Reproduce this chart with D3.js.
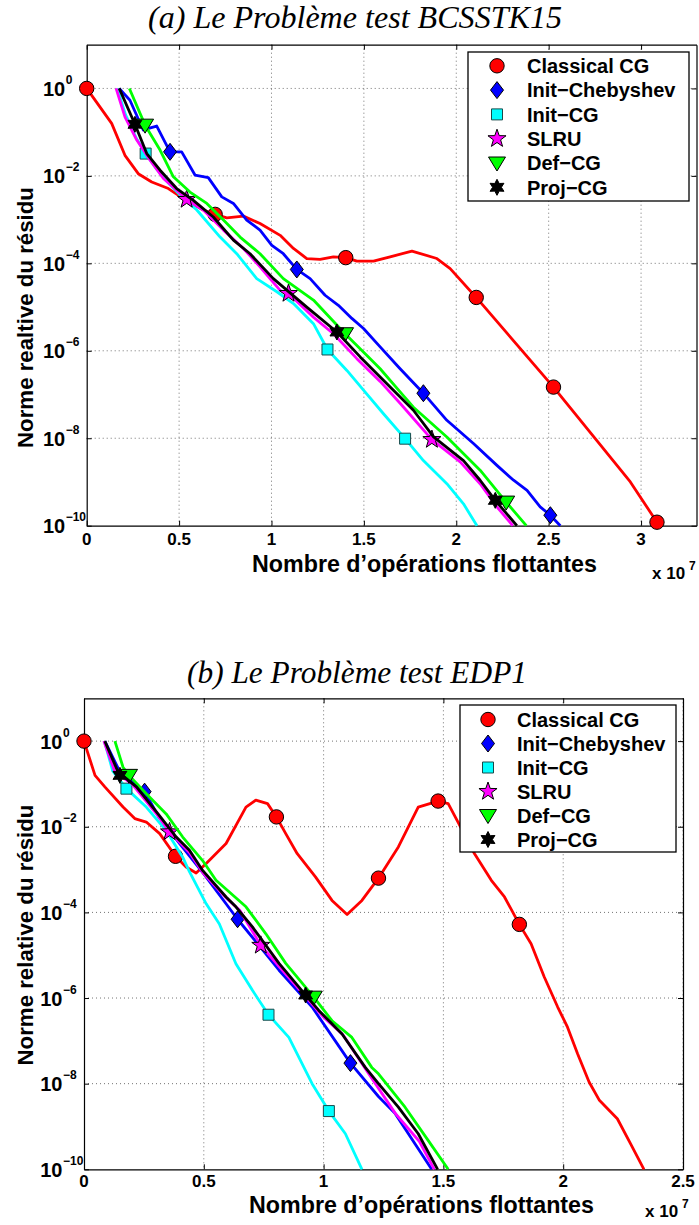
<!DOCTYPE html>
<html><head><meta charset="utf-8">
<script src="https://cdn.jsdelivr.net/npm/d3@7"></script>
<style>body{margin:0;background:#fff;} svg{display:block;}</style>
</head><body><svg id="c" width="699" height="1225"></svg>
<script>
// ---------- DATA (x in units of 1e7 flops, y as log10 of relative residual) ----------
const seriesNames = ["Classical CG","Init\u2212Chebyshev","Init\u2212CG","SLRU","Def\u2212CG","Proj\u2212CG"];
const seriesColors = ["#ff0000","#0000ff","#00ffff","#ff00ff","#00ff00","#000000"];
const markerTypes = ["circle","diamond","square","star","triangle","hexagram"];
const yTickExponents = [0,-2,-4,-6,-8,-10];
const xTicksA = [0,0.5,1,1.5,2,2.5,3];
const xTicksB = [0,0.5,1,1.5,2,2.5];
const titleA = "(a) Le Probl\u00e8me test BCSSTK15";
const titleB = "(b) Le Probl\u00e8me test EDP1";
const yLabelA = "Norme realtive du r\u00e9sidu";
const yLabelB = "Norme relative du r\u00e9sidu";
const xLabel = "Nombre d\u2019op\u00e9rations flottantes";

// Panel (a) BCSSTK15
const a_classicalCG = [[0,0],[0.135,-0.80],[0.207,-1.53],[0.279,-1.95],[0.352,-2.14],[0.442,-2.29],[0.523,-2.52],[0.631,-2.78],[0.695,-2.88],[0.758,-2.96],[0.848,-2.92],[0.938,-3.09],[1.047,-3.36],[1.119,-3.66],[1.191,-3.89],[1.263,-3.91],[1.335,-3.85],[1.402,-3.87],[1.462,-3.95],[1.552,-3.95],[1.642,-3.85],[1.760,-3.72],[1.895,-3.89],[1.967,-4.12],[2.108,-4.78],[2.526,-6.83],[2.942,-9.00],[3.086,-9.92]];
const a_initCheb = [[0.176,0],[0.234,-0.27],[0.306,-0.95],[0.379,-0.86],[0.451,-1.45],[0.514,-1.45],[0.586,-1.98],[0.658,-2.04],[0.731,-2.48],[0.794,-2.63],[0.866,-3.01],[0.938,-3.24],[1.002,-3.59],[1.064,-3.78],[1.137,-4.14],[1.209,-4.35],[1.290,-4.73],[1.362,-4.96],[1.435,-5.26],[1.498,-5.49],[1.588,-5.91],[1.696,-6.41],[1.822,-6.97],[1.949,-7.59],[2.093,-8.12],[2.220,-8.62],[2.310,-8.96],[2.383,-9.19],[2.454,-9.57],[2.509,-9.76],[2.563,-10.0]];
const a_initCG = [[0.165,0],[0.21,-0.6],[0.27,-1.15],[0.319,-1.49],[0.38,-1.85],[0.45,-2.2],[0.52,-2.5],[0.596,-2.78],[0.722,-3.40],[0.812,-3.78],[0.920,-4.35],[1.029,-4.65],[1.119,-4.92],[1.227,-5.38],[1.303,-5.97],[1.408,-6.45],[1.498,-6.90],[1.606,-7.44],[1.723,-8.01],[1.822,-8.51],[1.949,-9.04],[2.039,-9.50],[2.112,-10.0]];
const a_slru = [[0.159,0],[0.207,-0.65],[0.271,-1.18],[0.343,-1.64],[0.415,-2.06],[0.487,-2.33],[0.541,-2.54],[0.631,-2.78],[0.740,-3.24],[0.848,-3.66],[0.938,-4.08],[0.992,-4.35],[1.047,-4.62],[1.092,-4.69],[1.227,-5.23],[1.335,-5.61],[1.462,-6.18],[1.588,-6.70],[1.696,-7.20],[1.868,-8.03],[2.021,-8.54],[2.129,-9.04],[2.220,-9.57],[2.306,-10.0]];
const a_defCG = [[0.231,0],[0.316,-0.84],[0.397,-1.41],[0.469,-2.02],[0.559,-2.37],[0.650,-2.63],[0.740,-3.01],[0.830,-3.40],[0.938,-3.78],[1.064,-4.35],[1.227,-4.84],[1.398,-5.61],[1.534,-6.18],[1.588,-6.41],[1.696,-6.94],[1.768,-7.29],[1.949,-7.97],[2.129,-8.73],[2.270,-9.46],[2.379,-10.0]];
const a_projCG = [[0.176,0],[0.261,-0.82],[0.325,-1.49],[0.397,-1.87],[0.487,-2.29],[0.577,-2.56],[0.685,-2.94],[0.794,-3.47],[0.884,-3.78],[1.010,-4.35],[1.191,-5.00],[1.354,-5.57],[1.480,-6.14],[1.588,-6.60],[1.768,-7.36],[1.877,-7.97],[2.039,-8.51],[2.129,-8.96],[2.211,-9.42],[2.328,-10.0]];
const a_classicalCG_marks = [[0,0],[0.695,-2.88],[1.402,-3.87],[2.108,-4.78],[2.526,-6.83],[3.086,-9.92]];
const a_initCheb_marks = [[0.451,-1.45],[1.137,-4.14],[1.822,-6.97],[2.509,-9.76]];
const a_initCG_marks = [[0.319,-1.49],[1.303,-5.97],[1.723,-8.01]];
const a_slru_marks = [[0.541,-2.54],[1.092,-4.69],[1.868,-8.03]];
const a_defCG_marks = [[0.316,-0.84],[1.398,-5.61],[2.270,-9.46]];
const a_projCG_marks = [[0.261,-0.82],[1.354,-5.57],[2.211,-9.42]];

// Panel (b) EDP1
const b_classicalCG = [[0,0],[0.046,-0.80],[0.087,-1.07],[0.163,-1.54],[0.212,-1.81],[0.260,-1.89],[0.316,-2.16],[0.382,-2.69],[0.426,-2.94],[0.468,-3.08],[0.510,-2.86],[0.593,-2.39],[0.676,-1.54],[0.717,-1.38],[0.766,-1.46],[0.803,-1.77],[0.842,-2.16],[0.890,-2.63],[0.966,-3.17],[1.035,-3.72],[1.098,-4.05],[1.160,-3.72],[1.229,-3.2],[1.312,-2.47],[1.395,-1.54],[1.478,-1.40],[1.520,-1.46],[1.561,-1.89],[1.630,-2.63],[1.700,-3.25],[1.755,-3.64],[1.817,-4.28],[1.866,-4.73],[1.921,-5.51],[1.977,-6.21],[2.018,-6.68],[2.060,-7.30],[2.108,-7.96],[2.150,-8.38],[2.226,-8.82],[2.282,-9.41],[2.337,-10.0]];
const b_initCheb = [[0.087,0],[0.15,-0.72],[0.253,-1.18],[0.31,-1.75],[0.4,-2.4],[0.5,-3.1],[0.641,-4.16],[0.72,-4.7],[0.814,-5.35],[0.952,-6.21],[1.112,-7.52],[1.229,-8.3],[1.299,-8.7],[1.382,-9.41],[1.451,-10.0]];
const b_initCG = [[0.085,0],[0.12,-0.7],[0.177,-1.11],[0.260,-1.54],[0.343,-2.09],[0.412,-2.71],[0.440,-3.05],[0.510,-3.80],[0.565,-4.27],[0.634,-5.20],[0.703,-5.82],[0.770,-6.39],[0.855,-6.92],[0.952,-8.00],[1.022,-8.64],[1.091,-9.17],[1.160,-10.0]];
const b_slru = [[0.083,0],[0.129,-0.72],[0.2,-1.0],[0.3,-1.68],[0.357,-2.12],[0.44,-2.6],[0.5,-3.1],[0.6,-3.7],[0.65,-3.95],[0.738,-4.77],[0.82,-5.3],[0.93,-6.0],[1.0,-6.45],[1.08,-6.85],[1.18,-7.7],[1.3,-8.7],[1.4,-9.35],[1.462,-10.0]];
const b_defCG = [[0.129,0],[0.163,-0.61],[0.188,-0.80],[0.260,-1.23],[0.343,-1.70],[0.412,-2.24],[0.495,-2.79],[0.551,-3.25],[0.676,-3.87],[0.759,-4.50],[0.842,-5.19],[0.959,-5.98],[1.035,-6.53],[1.118,-6.92],[1.201,-7.62],[1.229,-7.77],[1.340,-8.55],[1.437,-9.33],[1.520,-10.0]];
const b_projCG = [[0.087,0],[0.142,-0.72],[0.219,-1.07],[0.309,-1.70],[0.385,-2.24],[0.440,-2.55],[0.495,-3.02],[0.593,-3.64],[0.634,-3.87],[0.703,-4.34],[0.814,-5.19],[0.925,-5.93],[0.980,-6.29],[1.077,-6.84],[1.174,-7.62],[1.229,-8.00],[1.312,-8.55],[1.395,-9.17],[1.476,-10.0]];
const b_classicalCG_marks = [[0,0],[0.382,-2.69],[0.803,-1.77],[1.229,-3.2],[1.478,-1.40],[1.817,-4.28]];
const b_initCheb_marks = [[0.253,-1.18],[0.641,-4.16],[1.112,-7.52]];
const b_initCG_marks = [[0.177,-1.11],[0.770,-6.39],[1.022,-8.64]];
const b_slru_marks = [[0.357,-2.12],[0.738,-4.77]];
const b_defCG_marks = [[0.188,-0.80],[0.959,-5.98]];
const b_projCG_marks = [[0.15,-0.80],[0.925,-5.93]];

// ---------- LAYOUT ----------
const FONT = "'Liberation Sans', Arial, Helvetica, sans-serif";
const svg = d3.select("#c");

const panels = [
  {left:86.7,right:696.5,top:44.7,bottom:525.7,xMax:3.3,xTicks:xTicksA,
   title:titleA,titleX:355,titleY:28,titleW:414,
   yLabel:yLabelA,yLabelY:317.5,xLabelX:424.5,xLabelY:571.5,expX:652,expY:579,tickDy:19,
   leg:{x:468,y:52,w:221,h:149,row0:65.8,dy:24.3,mx:29,tx:59},
   lines:[a_classicalCG,a_initCheb,a_initCG,a_slru,a_defCG,a_projCG],
   marks:[a_classicalCG_marks,a_initCheb_marks,a_initCG_marks,a_slru_marks,a_defCG_marks,a_projCG_marks]},
  {left:84,right:683,top:698.3,bottom:1169.3,xMax:2.5,xTicks:xTicksB,
   title:titleB,titleX:357,titleY:683,titleW:340,
   yLabel:yLabelB,yLabelY:935,xLabelX:421.5,xLabelY:1213,expX:645,expY:1217,tickDy:18,
   leg:{x:460,y:705,w:216,h:147,row0:719.5,dy:24,mx:28,tx:57},
   lines:[b_classicalCG,b_initCheb,b_initCG,b_slru,b_defCG,b_projCG],
   marks:[b_classicalCG_marks,b_initCheb_marks,b_initCG_marks,b_slru_marks,b_defCG_marks,b_projCG_marks]}
];

function starPath(n, ro, ri){
  let p = [];
  for(let i=0;i<2*n;i++){
    const r = i%2===0?ro:ri;
    const a = -Math.PI/2 + i*Math.PI/n;
    p.push([r*Math.cos(a), r*Math.sin(a)]);
  }
  return "M"+p.map(q=>q[0].toFixed(2)+","+q[1].toFixed(2)).join("L")+"Z";
}
function markerPath(type){
  switch(type){
    case "circle": return d3.symbol(d3.symbolCircle, Math.PI*7.2*7.2)();
    case "diamond": return "M0,-8.5L6.5,0L0,8.5L-6.5,0Z";
    case "square": return "M-5.5,-5.5H5.5V5.5H-5.5Z";
    case "star": return starPath(5, 9.5, 3.8);
    case "triangle": return "M-8.5,-6L8.5,-6L0,8Z";
    case "hexagram": return starPath(6, 8, 4.4);
  }
}

function fitText(sel, target){
  const w = sel.node().getComputedTextLength();
  const fs = parseFloat(sel.attr("font-size"));
  sel.attr("font-size", (fs*target/w).toFixed(2));
}

panels.forEach(P=>{
  const x = d3.scaleLinear().domain([0,P.xMax]).range([P.left,P.right]);
  const y = d3.scaleLog().domain([1e-10,10]).range([P.bottom,P.top]);
  const g = svg.append("g");

  // grid
  const grid = g.append("g").attr("stroke","#000").attr("stroke-opacity",0.55).attr("stroke-width",1).attr("stroke-dasharray","1,3");
  P.xTicks.forEach(t=>{ if(t>0) grid.append("line").attr("x1",x(t)).attr("x2",x(t)).attr("y1",P.top).attr("y2",P.bottom); });
  yTickExponents.forEach(e=>{ if(e>-10) grid.append("line").attr("x1",P.left).attr("x2",P.right).attr("y1",y(Math.pow(10,e))).attr("y2",y(Math.pow(10,e))); });

  // axes via d3 axis (ticks inside, on all four sides)
  const xAxisB = d3.axisBottom(x).tickValues(P.xTicks).tickSizeInner(-5).tickSizeOuter(0).tickFormat("");
  const xAxisT = d3.axisTop(x).tickValues(P.xTicks).tickSizeInner(-5).tickSizeOuter(0).tickFormat("");
  const yVals = yTickExponents.map(e=>Math.pow(10,e));
  const yAxisL = d3.axisLeft(y).tickValues(yVals).tickSizeInner(-5).tickSizeOuter(0).tickFormat("");
  const yAxisR = d3.axisRight(y).tickValues(yVals).tickSizeInner(-5).tickSizeOuter(0).tickFormat("");
  [[xAxisB,`translate(0,${P.bottom})`],[xAxisT,`translate(0,${P.top})`],[yAxisL,`translate(${P.left},0)`],[yAxisR,`translate(${P.right},0)`]].forEach(([ax,tr])=>{
    const a = g.append("g").attr("transform",tr).call(ax);
    a.select(".domain").attr("stroke","#000").attr("stroke-width",1.2);
    a.selectAll(".tick line").attr("stroke","#000").attr("stroke-width",1);
  });

  // x tick labels
  P.xTicks.forEach(t=>{
    g.append("text").attr("x",x(t)).attr("y",P.bottom+P.tickDy).attr("text-anchor","middle")
      .attr("font-family",FONT).attr("font-weight","bold").attr("font-size",17).text(String(t));
  });
  // y tick labels 10^k
  yTickExponents.forEach(e=>{
    const yy = y(Math.pow(10,e));
    const lx = P.left-21.5;
    g.append("text").attr("x",lx).attr("y",yy+7.5).attr("text-anchor","end")
      .attr("font-family",FONT).attr("font-weight","bold").attr("font-size",20).text("10");
    g.append("text").attr("x",lx+0.5).attr("y",yy-4.5).attr("text-anchor","start")
      .attr("font-family",FONT).attr("font-weight","bold").attr("font-size",12).text(e===0?"0":"\u2212"+(-e));
  });

  // lines & markers
  const line = d3.line().x(d=>x(d[0])).y(d=>y(Math.pow(10,d[1])));
  P.lines.forEach((data,i)=>{
    g.append("path").attr("d",line(data)).attr("fill","none").attr("stroke",seriesColors[i])
      .attr("stroke-width",2.8).attr("stroke-linejoin","round");
    g.selectAll(null).data(P.marks[i]).enter().append("path")
      .attr("transform",d=>`translate(${x(d[0])},${y(Math.pow(10,d[1]))})`)
      .attr("d",markerPath(markerTypes[i])).attr("fill",seriesColors[i])
      .attr("stroke",i===2?"#1a4a4a":"#000").attr("stroke-width",1);
  });

  // legend
  const L = P.leg;
  g.append("rect").attr("x",L.x).attr("y",L.y).attr("width",L.w).attr("height",L.h)
    .attr("fill","#fff").attr("stroke","#000").attr("stroke-width",1.3);
  seriesNames.forEach((name,i)=>{
    const ry = L.row0 + i*L.dy;
    g.append("path").attr("transform",`translate(${L.x+L.mx},${ry})`).attr("d",markerPath(markerTypes[i]))
      .attr("fill",seriesColors[i]).attr("stroke",i===2?"#1a4a4a":"#000").attr("stroke-width",1);
    g.append("text").attr("x",L.x+L.tx).attr("y",ry+7.3).attr("font-family",FONT).attr("font-weight","bold")
      .attr("font-size",20).text(name);
  });

  // title
  const tt = g.append("text").attr("x",P.titleX).attr("y",P.titleY).attr("text-anchor","middle")
    .attr("font-family","'Liberation Serif','Times New Roman',serif").attr("font-style","italic").attr("font-size",24).text(P.title);
  fitText(tt, P.titleW);

  // axis labels
  const xl = g.append("text").attr("x",P.xLabelX).attr("y",P.xLabelY).attr("text-anchor","middle")
    .attr("font-family",FONT).attr("font-weight","bold").attr("font-size",23).text(xLabel);
  fitText(xl, 345);
  const yl = g.append("text").attr("transform",`translate(33,${P.yLabelY}) rotate(-90)`).attr("text-anchor","middle")
    .attr("font-family",FONT).attr("font-weight","bold").attr("font-size",22).text(P.yLabel);
  fitText(yl, 261);

  // x 10^7 multiplier
  g.append("text").attr("x",P.expX).attr("y",P.expY).attr("font-family",FONT).attr("font-weight","bold").attr("font-size",17).text("x 10");
  g.append("text").attr("x",P.expX+37).attr("y",P.expY-9).attr("font-family",FONT).attr("font-weight","bold").attr("font-size",12).text("7");
});
</script></body></html>
